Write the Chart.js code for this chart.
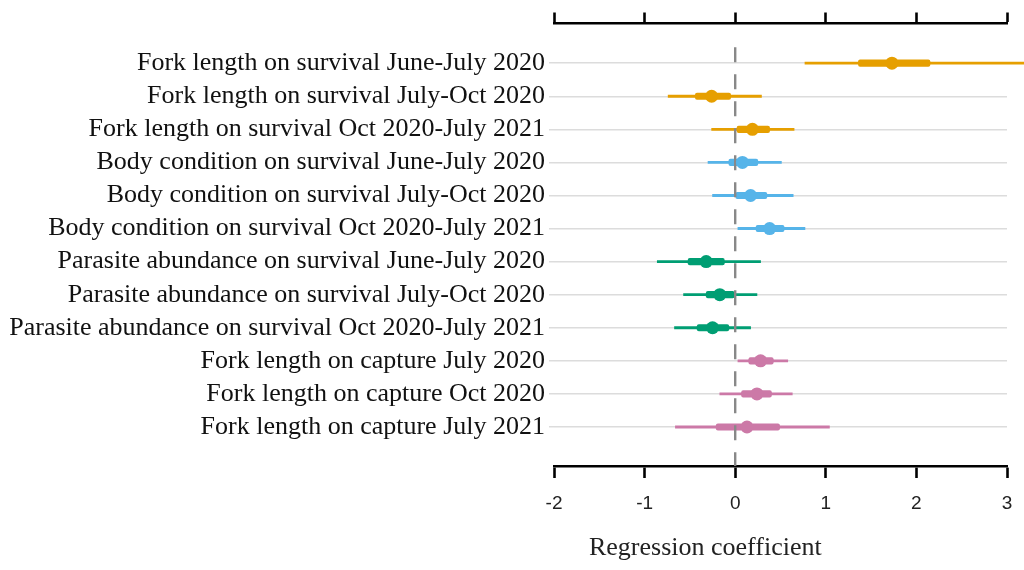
<!DOCTYPE html>
<html>
<head>
<meta charset="utf-8">
<script src="https://cdn.jsdelivr.net/npm/chart.js@4"></script>
<style>
  html, body { margin: 0; padding: 0; background: #ffffff; }
  #wrap { width: 1024px; height: 570px; position: relative; }
</style>
</head>
<body>
<div id="wrap"><canvas id="chart" width="1024" height="570"></canvas></div>
<script>
// Effect labels, top to bottom
const categories = [
  'Fork length on survival June-July 2020',
  'Fork length on survival July-Oct 2020',
  'Fork length on survival Oct 2020-July 2021',
  'Body condition on survival June-July 2020',
  'Body condition on survival July-Oct 2020',
  'Body condition on survival Oct 2020-July 2021',
  'Parasite abundance on survival June-July 2020',
  'Parasite abundance on survival July-Oct 2020',
  'Parasite abundance on survival Oct 2020-July 2021',
  'Fork length on capture July 2020',
  'Fork length on capture Oct 2020',
  'Fork length on capture July 2021'
];
// Posterior median and interval bounds (outer = 95%, inner = 50%)
const estimate = [1.73, -0.26, 0.19, 0.08, 0.17, 0.38, -0.32, -0.17, -0.25, 0.28, 0.24, 0.13];
const outerLow  = [0.77, -0.74, -0.26, -0.30, -0.25, 0.03, -0.86, -0.57, -0.67, 0.03, -0.17, -0.66];
const outerHigh = [3.30, 0.29, 0.65, 0.51, 0.64, 0.77, 0.28, 0.24, 0.17, 0.58, 0.63, 1.04];
const innerLow  = [1.36, -0.44, 0.02, -0.07, 0.00, 0.23, -0.52, -0.32, -0.42, 0.15, 0.07, -0.21];
const innerHigh = [2.15, -0.05, 0.38, 0.25, 0.35, 0.54, -0.12, -0.01, -0.07, 0.42, 0.40, 0.49];
// Predictor group of each row
const groups = ['fork', 'fork', 'fork', 'body', 'body', 'body', 'parasite', 'parasite', 'parasite', 'capture', 'capture', 'capture'];
const xTicks = [-2, -1, 0, 1, 2, 3];

const groupColors = { fork: '#E69F00', body: '#56B4E9', parasite: '#009E73', capture: '#CC79A7' };
const rowColors = groups.map(g => groupColors[g]);
const X_MIN = -2, X_MAX = 3;
const Y_MIN = -0.2, Y_MAX = 13.18;

const rows = categories.map((_, i) => i + 1);

// Axis title, centred under the label/plot block
const axisTitle = {
  id: 'axisTitle',
  afterDraw(chart) {
    const { ctx } = chart;
    const sx = chart.scales.x;
    ctx.save();
    ctx.font = '26px "Liberation Serif", "Times New Roman", serif';
    ctx.fillStyle = '#222222';
    ctx.textAlign = 'center';
    ctx.textBaseline = 'middle';
    ctx.fillText('Regression coefficient', sx.getPixelForValue(-0.33), 548);
    ctx.restore();
  }
};

const fitX = h => s => { s.height = h; s.paddingRight = 0; s.paddingLeft = 0; };

new Chart(document.getElementById('chart'), {
  type: 'scatter',
  data: {
    datasets: [
      {
        // medians
        type: 'scatter',
        order: 0,
        data: rows.map((r, i) => ({ x: estimate[i], y: r })),
        backgroundColor: rowColors,
        borderColor: rowColors,
        pointRadius: 6.5,
        pointBorderWidth: 0
      },
      {
        // zero reference
        type: 'line',
        order: 1,
        data: [{ x: 0, y: 0.52 }, { x: 0, y: Y_MAX }],
        borderColor: '#888888',
        borderWidth: 2.4,
        borderDash: [15, 12],
        pointRadius: 0,
        fill: false,
        clip: false
      },
      {
        // 50% intervals
        type: 'bar',
        indexAxis: 'y',
        order: 2,
        grouped: false,
        data: rows.map((r, i) => ({ x: [innerLow[i], innerHigh[i]], y: r })),
        backgroundColor: rowColors,
        borderWidth: 0,
        borderRadius: 2,
        borderSkipped: false,
        barThickness: 6.5
      },
      {
        // 95% intervals
        type: 'bar',
        indexAxis: 'y',
        order: 3,
        grouped: false,
        data: rows.map((r, i) => ({ x: [outerLow[i], outerHigh[i]], y: r })),
        backgroundColor: rowColors,
        borderWidth: 0,
        barThickness: 2.2,
        clip: false
      }
    ]
  },
  options: {
    responsive: false,
    animation: false,
    events: [],
    layout: { padding: { right: 17, top: 0, bottom: 0, left: 0 } },
    plugins: { legend: { display: false }, tooltip: { enabled: false } },
    scales: {
      x: {
        type: 'linear',
        position: 'bottom',
        min: X_MIN,
        max: X_MAX,
        offset: false,
        afterBuildTicks: s => { s.ticks = xTicks.map(v => ({ value: v })); },
        afterFit: fitX(104),
        border: { display: true, color: '#000000', width: 2.6 },
        grid: { offset: false, drawOnChartArea: false, drawTicks: true, tickLength: 12, tickColor: '#000000', tickWidth: 2.6 },
        ticks: {
          padding: 14,
          color: '#222222',
          font: { family: '"Liberation Sans", Arial, sans-serif', size: 19 },
          callback: v => String(v)
        }
      },
      x2: {
        type: 'linear',
        position: 'top',
        min: X_MIN,
        max: X_MAX,
        offset: false,
        afterBuildTicks: s => { s.ticks = xTicks.map(v => ({ value: v })); },
        afterFit: fitX(23.5),
        border: { display: true, color: '#000000', width: 2.6 },
        grid: { offset: false, drawOnChartArea: false, drawTicks: true, tickLength: 11, tickColor: '#000000', tickWidth: 2.6 },
        ticks: { display: false }
      },
      y: {
        type: 'linear',
        reverse: true,
        min: Y_MIN,
        max: Y_MAX,
        offset: false,
        afterBuildTicks: s => { s.ticks = rows.map(v => ({ value: v })); },
        afterFit: s => { s.width = 554; },
        border: { display: false },
        grid: { offset: false, color: '#dcdcdc', lineWidth: 1.5, tickLength: 5, drawTicks: true },
        ticks: {
          padding: 4,
          autoSkip: false,
          color: '#111111',
          font: { family: '"Liberation Serif", "Times New Roman", serif', size: 26 },
          callback: v => categories[v - 1] ?? ''
        }
      }
    }
  },
  plugins: [axisTitle]
});
</script>
</body>
</html>
